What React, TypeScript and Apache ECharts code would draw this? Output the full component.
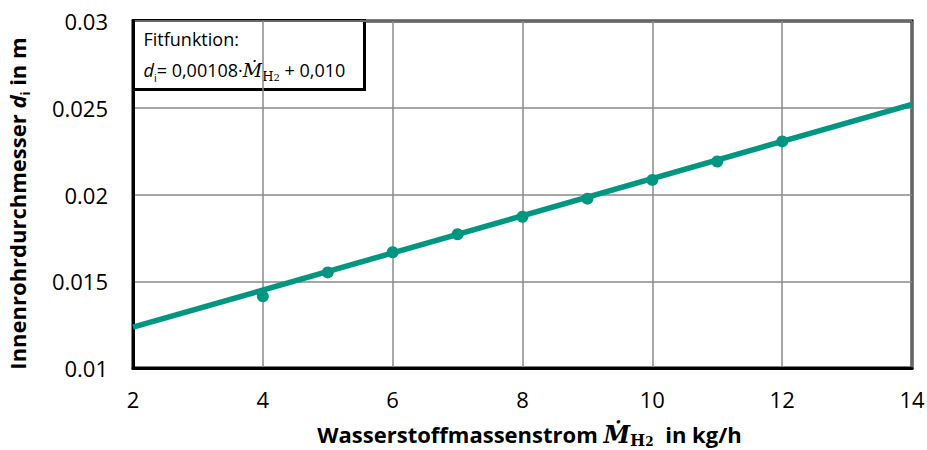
import React, { useEffect, useRef } from "react";
import * as echarts from "echarts";

const pointX = [4, 5, 6, 7, 8, 9, 10, 11, 12];
const pointY = [0.01413, 0.01551, 0.01667, 0.01771, 0.01872, 0.01976, 0.02084, 0.0219, 0.02306];
const fitX = [2, 14];
const fitY = [0.01235, 0.0252];
const xTicks = [2, 4, 6, 8, 10, 12, 14];
const yTicks = [0.01, 0.015, 0.02, 0.025, 0.03];

const TEAL = "#009681";
const FONT = "Open Sans";

export default function App() {
  const ref = useRef<HTMLDivElement>(null);
  useEffect(() => {
    if (!ref.current) return;
    const chart = echarts.init(ref.current, null, { renderer: "svg" });
    chart.setOption({
      animation: false,
      backgroundColor: "#ffffff",
      grid: {
        left: 133,
        right: 15,
        top: 21,
        bottom: 82,
        show: true,
        borderColor: "#000",
        borderWidth: 3,
        backgroundColor: "transparent",
        containLabel: false,
        outerBoundsMode: "none",
      },
      xAxis: {
        type: "value",
        min: xTicks[0],
        max: xTicks[xTicks.length - 1],
        interval: 2,
        axisLine: { show: true, lineStyle: { color: "#000", width: 3 } },
        axisTick: { show: false },
        axisLabel: { color: "#000", fontFamily: FONT, fontSize: 22, margin: 20 },
        splitLine: { show: true, lineStyle: { color: "#8a8a8a", width: 1.5 } },
        name: "Wasserstoffmassenstrom {m|Ṁ}{h|H}{two|2} in kg/h",
        nameLocation: "middle",
        nameGap: 52,
        nameTextStyle: {
          color: "#000",
          fontFamily: FONT,
          fontWeight: "bold",
          fontSize: 22,
          lineHeight: 28,
          padding: [0, 0, 0, 14],
          rich: {
            m: { fontFamily: "DejaVu Serif", fontStyle: "italic", fontWeight: "bold", fontSize: 24, color: "#000", lineHeight: 28 },
            h: { fontFamily: "DejaVu Serif", fontWeight: "bold", fontSize: 16, color: "#000", verticalAlign: "bottom", lineHeight: 18 },
            two: { fontFamily: "DejaVu Serif", fontWeight: "bold", fontSize: 12, color: "#000", verticalAlign: "bottom", lineHeight: 10, padding: [0, 6, 0, 0] },
          },
        },
      },
      yAxis: {
        type: "value",
        min: yTicks[0],
        max: yTicks[yTicks.length - 1],
        interval: 0.005,
        axisLine: { show: true, lineStyle: { color: "#000", width: 3 } },
        axisTick: { show: false },
        axisLabel: { color: "#000", fontFamily: FONT, fontSize: 22, margin: 25 },
        splitLine: { show: true, lineStyle: { color: "#8a8a8a", width: 1.5 } },
        name: "Innenrohrdurchmesser {d|d}{i|i} in m",
        nameLocation: "middle",
        nameGap: 102,
        nameTextStyle: {
          color: "#000",
          fontFamily: FONT,
          fontWeight: "bold",
          fontSize: 22,
          lineHeight: 28,
          padding: [0, 18, 0, 0],
          rich: {
            d: { fontFamily: FONT, fontStyle: "italic", fontWeight: "bold", fontSize: 22, color: "#000", lineHeight: 28 },
            i: { fontFamily: FONT, fontWeight: "bold", fontSize: 13, color: "#000", verticalAlign: "bottom", lineHeight: 15 },
          },
        },
      },
      series: [
        {
          type: "line",
          data: fitX.map((x, k) => [x, fitY[k]]),
          showSymbol: false,
          lineStyle: { color: TEAL, width: 5.5 },
          z: 3,
        },
        {
          type: "scatter",
          data: pointX.map((x, k) => [x, pointY[k]]),
          symbol: "circle",
          symbolSize: 12,
          itemStyle: { color: TEAL, opacity: 1 },
          z: 4,
        },
      ],
      graphic: [
        {
          type: "group",
          left: 132,
          top: 19,
          z: 100,
          children: [
            {
              type: "rect",
              shape: { x: 0, y: 0, width: 231, height: 69 },
              style: { fill: "#fff", stroke: "#000", lineWidth: 3 },
            },
            {
              type: "text",
              x: 10,
              y: 9,
              style: {
                text: "Fitfunktion:",
                fontFamily: FONT,
                fontSize: 18,
                fill: "#000",
              },
            },
            {
              type: "text",
              x: 10,
              y: 36,
              style: {
                text: "{d|d}{i|i}= 0,00108·{m|Ṁ}{h|H}{two|2} + 0,010",
                fontFamily: FONT,
                fontSize: 18,
                lineHeight: 26,
                fill: "#000",
                rich: {
                  d: { fontFamily: FONT, fontStyle: "italic", fontSize: 18, lineHeight: 26, fill: "#000" },
                  i: { fontFamily: FONT, fontSize: 11, lineHeight: 16, verticalAlign: "bottom", fill: "#000" },
                  m: { fontFamily: "DejaVu Serif", fontStyle: "italic", fontSize: 19, lineHeight: 26, fill: "#000" },
                  h: { fontFamily: "DejaVu Serif", fontSize: 13, lineHeight: 16, verticalAlign: "bottom", fill: "#000" },
                  two: { fontFamily: "DejaVu Serif", fontSize: 10, lineHeight: 9, verticalAlign: "bottom", fill: "#000" },
                },
              },
            },
          ],
        },
      ],
    });
    return () => chart.dispose();
  }, []);
  return <div ref={ref} style={{ width: 927, height: 450, position: "absolute", left: 0, top: 0 }} />;
}
